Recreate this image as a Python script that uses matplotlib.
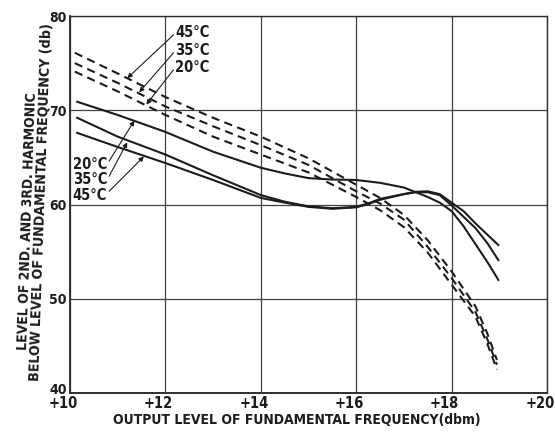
import matplotlib
matplotlib.use("Agg")
import matplotlib.pyplot as plt
import matplotlib.transforms as mtransforms

plt.rcParams['font.family'] = ['DejaVu Sans']
plt.rcParams['font.stretch'] = 'condensed'
plt.rcParams['font.weight'] = 'bold'

# ---- data ----
x_solid_20 = [10.15, 11, 12, 13, 14, 14.5, 15, 15.5, 16, 16.5, 17, 17.5, 17.75, 18, 18.25, 18.5, 18.75, 18.98]
y_solid_20 = [70.9, 69.5, 67.7, 65.6, 63.9, 63.3, 62.8, 62.65, 62.6, 62.3, 61.8, 60.8, 60.2, 59.3, 57.7, 55.8, 53.9, 52.0]

x_solid_35 = [10.15, 11, 12, 13, 14, 14.5, 15, 15.5, 16, 16.25, 16.5, 17, 17.25, 17.5, 17.75, 18, 18.25, 18.5, 18.75, 18.98]
y_solid_35 = [69.2, 67.2, 65.3, 63.1, 61.0, 60.3, 59.8, 59.6, 59.75, 60.1, 60.6, 61.1, 61.3, 61.3, 61.0, 59.9, 58.7, 57.5, 55.9, 54.1]

x_solid_45 = [10.15, 11, 12, 13, 14, 14.5, 15, 15.5, 16, 16.25, 16.5, 17, 17.25, 17.5, 17.75, 18, 18.25, 18.5, 18.75, 18.98]
y_solid_45 = [67.6, 66.1, 64.4, 62.6, 60.7, 60.2, 59.75, 59.55, 59.7, 60.05, 60.5, 61.1, 61.35, 61.4, 61.1, 60.2, 59.3, 58.0, 56.8, 55.7]

x_dash = [10.1, 11, 12, 13, 14, 15, 16, 16.5, 17, 17.5, 18, 18.5, 18.75, 18.95]
y_dash_45 = [76.1, 73.9, 71.4, 69.2, 67.2, 64.9, 62.1, 60.7, 58.9, 56.2, 52.9, 49.2, 46.3, 43.5]
y_dash_35 = [75.0, 72.9, 70.4, 68.3, 66.3, 64.2, 61.4, 60.1, 58.4, 55.5, 52.2, 48.6, 45.7, 43.0]
y_dash_20 = [74.1, 72.0, 69.5, 67.2, 65.3, 63.4, 60.8, 59.4, 57.6, 54.9, 51.5, 48.1, 45.2, 42.5]

x_ticks = [10, 12, 14, 16, 18, 20]
x_tick_labels = ["+10", "+12", "+14", "+16", "+18", "+20"]
y_ticks = [40, 50, 60, 70, 80]
y_tick_labels = ["40", "50", "60", "70", "80"]

temp_labels = ["45\u00b0C", "35\u00b0C", "20\u00b0C"]

W, H = 555, 434
fig = plt.figure(figsize=(W / 100, H / 100), dpi=100)
ax = fig.add_axes([70 / W, 1 - 393 / H, (547 - 70) / W, (393 - 16) / H])

ink = '#1c1c1c'
ax.set_xlim(10, 20)
ax.set_ylim(40, 80)
ax.set_xticks(x_ticks)
ax.set_xticklabels(x_tick_labels, fontsize=10.5)
ax.set_yticks(y_ticks)
ax.set_yticklabels(y_tick_labels, fontsize=10)
ax.tick_params(length=0, pad=2.5, colors=ink)
shift = mtransforms.ScaledTranslation(-0.07, 0, fig.dpi_scale_trans)
for lab in ax.get_xticklabels():
    lab.set_transform(lab.get_transform() + shift)
up = mtransforms.ScaledTranslation(0, 0.04, fig.dpi_scale_trans)
ylab0 = ax.get_yticklabels()[0]
ylab0.set_transform(ylab0.get_transform() + up)
ax.grid(True, color='#404040', lw=0.9)
for s in ax.spines.values():
    s.set_color('#303030')
    s.set_linewidth(1.0)
ax.spines['left'].set_linewidth(1.4)
ax.spines['bottom'].set_linewidth(1.4)

lw = 1.5
ax.plot(x_solid_20, y_solid_20, color=ink, lw=lw)
ax.plot(x_solid_35, y_solid_35, color=ink, lw=lw)
ax.plot(x_solid_45, y_solid_45, color=ink, lw=lw)
ds = (0, (4, 2.6))
ax.plot(x_dash, y_dash_45, color=ink, lw=lw, linestyle=ds)
ax.plot(x_dash, y_dash_35, color=ink, lw=lw, linestyle=ds)
ax.plot(x_dash, y_dash_20, color=ink, lw=lw, linestyle=ds)

ap = dict(arrowstyle='-|>', color=ink, lw=0.8, mutation_scale=7, shrinkA=0, shrinkB=0)

# upper labels (dashed curves)
top_text_y = [78.2, 76.3, 74.5]
top_tips = [(11.2, 73.4), (11.45, 71.9), (11.6, 70.6)]
for lab, ty, tip in zip(temp_labels, top_text_y, top_tips):
    ax.text(12.2, ty, lab, fontsize=10.5, ha='left', va='center', color=ink)
    ax.annotate('', xy=tip, xytext=(12.17, ty - 0.2), arrowprops=ap)

# lower labels (solid curves)
low_labels = ["20\u00b0C", "35\u00b0C", "45\u00b0C"]
low_text_y = [64.2, 62.6, 61.0]
low_tips = [(11.35, 68.9), (11.2, 66.6), (11.55, 65.1)]
for lab, ty, tip in zip(low_labels, low_text_y, low_tips):
    ax.text(10.06, ty, lab, fontsize=10.5, ha='left', va='center', color=ink)
    ax.annotate('', xy=tip, xytext=(10.82, ty + 0.4), arrowprops=ap)

# axis titles
fig.text(297 / W, 1 - 420 / H, "OUTPUT LEVEL OF FUNDAMENTAL FREQUENCY(dbm)",
         fontsize=10, ha='center', va='center', color=ink)
fig.text(27 / W, 1 - 221 / H, "LEVEL OF 2ND. AND 3RD. HARMONIC",
         fontsize=10, ha='center', va='center', rotation=88, rotation_mode='anchor', color=ink)
fig.text(41 / W, 1 - 202 / H, "BELOW LEVEL OF FUNDAMENTAL FREQUENCY (db)",
         fontsize=10.2, ha='center', va='center', rotation=88, rotation_mode='anchor', color=ink)

fig.savefig("out.png", dpi=100, facecolor='white')
